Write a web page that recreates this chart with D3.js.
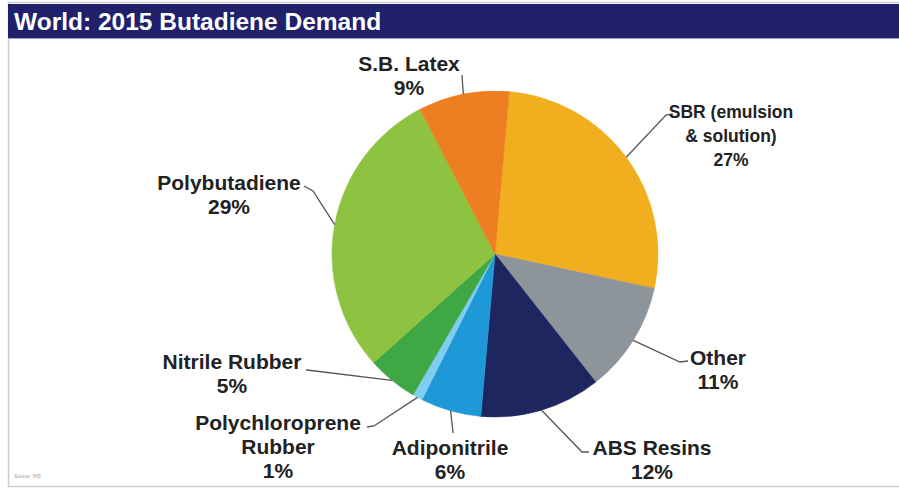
<!DOCTYPE html>
<html>
<head>
<meta charset="utf-8">
<script src="https://cdn.jsdelivr.net/npm/d3@7"></script>
<style>
  body { margin: 0; background: #fff; }
  text { font-family: "Liberation Sans", Arial, sans-serif; }
</style>
</head>
<body>
<div id="chart"></div>
<script>
// data
var categories = ["SBR (emulsion & solution)", "Other", "ABS Resins", "Adiponitrile",
                  "Polychloroprene Rubber", "Nitrile Rubber", "Polybutadiene", "S.B. Latex"];
var shares = [27, 11, 12, 6, 1, 5, 29, 9];
var colors = ["#F1AE1F", "#8E959A", "#1E2660", "#1F98D8", "#7FCDF1", "#3FA845", "#8DC340", "#EE7E22"];
// label text lines (shown above the percentage)
var labelLines = [["SBR (emulsion", "& solution)"], ["Other"], ["ABS Resins"], ["Adiponitrile"],
                  ["Polychloroprene", "Rubber"], ["Nitrile Rubber"], ["Polybutadiene"], ["S.B. Latex"]];

// layout (label placement + leader elbows)
var labelPos = [[731, 118], [718, 365], [652, 455], [450, 455], [278, 430], [232, 369], [229, 190], [409, 71]];
var labelSize = [17.5, 21, 21, 21, 21, 21, 21, 21];
var elbows = [[[673, 114], [666, 115]], [[688, 361], [680, 362]], [[589, 452], [582, 452]], [[453, 433], [453, 432]],
              [[367, 427], [374, 426]], [[306, 370], [307, 370]], [[304, 186], [313, 191]], [[462, 75], [462, 76]]];

var width = 899, height = 488;
var cx = 495, cy = 254, r = 163;

var svg = d3.select("#chart").append("svg").attr("width", width).attr("height", height);

// frame
svg.append("rect").attr("x", 8.5).attr("y", 2.5).attr("width", 900).attr("height", 484)
  .style("fill", "none").style("stroke", "#c9ccd2").style("stroke-width", 1.5);
svg.append("rect").attr("x", 8).attr("y", 4).attr("width", 891).attr("height", 34).style("fill", "#20206B");
svg.append("line").attr("x1", 8).attr("x2", 899).attr("y1", 38.5).attr("y2", 38.5)
  .style("stroke", "#9aa0c0").style("stroke-width", 1);
svg.append("text").attr("x", 14).attr("y", 30).text("World: 2015 Butadiene Demand")
  .style("fill", "#fff").style("font-size", "24.5px").style("font-weight", "bold");
svg.append("text").attr("x", 14).attr("y", 478).text("Source: IHS")
  .style("fill", "#999").style("font-size", "5px");

var pie = d3.pie().sort(null).value(function(d) { return d; })
  .startAngle(5 * Math.PI / 180).endAngle(5 * Math.PI / 180 + 2 * Math.PI);
var arcs = pie(shares);
var arc = d3.arc().innerRadius(0).outerRadius(r);

var g = svg.append("g").attr("transform", "translate(" + cx + "," + cy + ")");
g.selectAll("path").data(arcs).enter().append("path")
  .attr("d", arc)
  .style("fill", function(d, i) { return colors[i]; })
  .style("stroke", function(d, i) { return colors[i]; })
  .style("stroke-width", 0.5);

// leaders
var line = d3.line();
arcs.forEach(function(d, i) {
  var a = (d.startAngle + d.endAngle) / 2;
  var px = cx + r * Math.sin(a), py = cy - r * Math.cos(a);
  var pts = elbows[i].concat([[px, py]]);
  svg.append("path").attr("d", line(pts))
    .style("fill", "none").style("stroke", "#555").style("stroke-width", 1.3);
});

// labels
arcs.forEach(function(d, i) {
  var lines = labelLines[i].concat([shares[i] + "%"]);
  var t = svg.append("text").attr("text-anchor", "middle")
    .style("font-size", labelSize[i] + "px").style("font-weight", "bold").style("fill", "#222");
  lines.forEach(function(s, k) {
    t.append("tspan").attr("x", labelPos[i][0]).attr("y", labelPos[i][1] + k * 24).text(s);
  });
});
</script>
</body>
</html>
